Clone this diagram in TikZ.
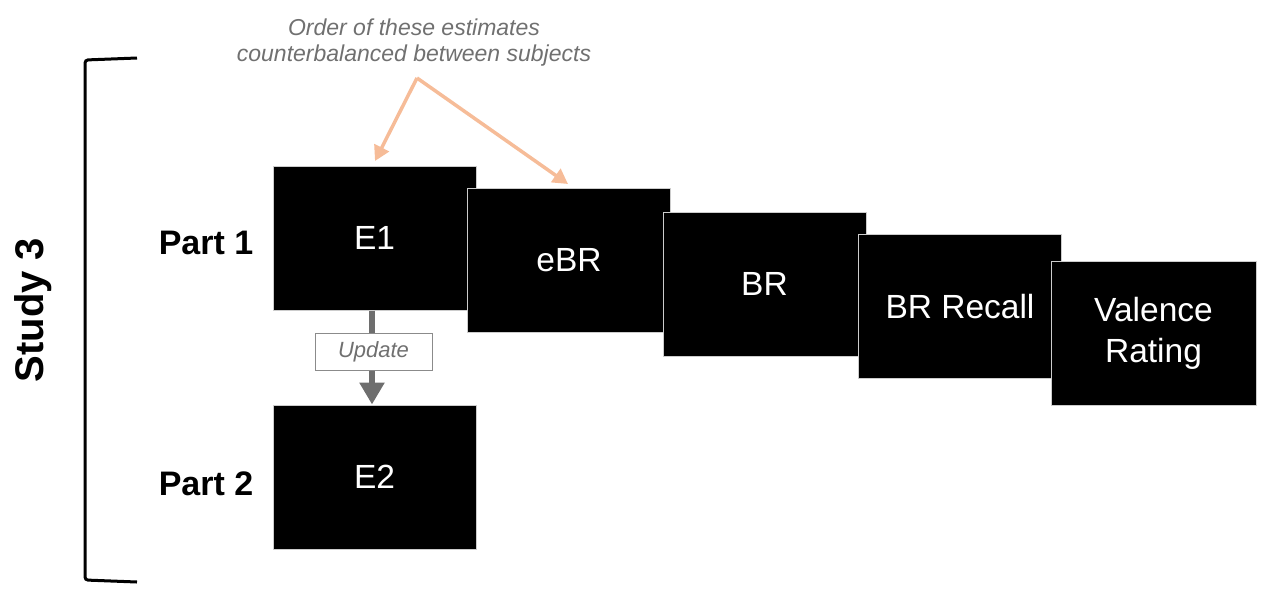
\documentclass[tikz,border=0pt]{standalone}
\usepackage{fontspec}
\setmainfont{Liberation Sans}
\usetikzlibrary{arrows.meta}
\definecolor{peach}{HTML}{F6BC98}
\definecolor{arrowgray}{HTML}{6E6E6E}
\definecolor{notegray}{HTML}{707070}
\begin{document}
\begin{tikzpicture}[x=1pt,y=-1pt,
  screen/.style={draw=black!20,line width=1pt,fill=black,text=white,
    minimum width=203pt,minimum height=144pt,inner sep=0pt,align=center,
    font=\fontsize{33.5}{41}\selectfont},
  partlabel/.style={font=\fontsize{34}{40}\selectfont\bfseries,inner sep=0pt},
  orangearrow/.style={draw=peach,line width=3.5pt,-{Triangle[length=15pt,width=16pt]}},
  updatearrow/.style={draw=arrowgray,line width=6pt,-{Triangle[length=22pt,width=24pt]}},
  updatebox/.style={draw=arrowgray!80,line width=1pt,fill=white,text=notegray,
    minimum width=117pt,minimum height=37pt,inner sep=0pt,
    font=\fontsize{22}{26}\selectfont\itshape},
  note/.style={text=notegray,align=center,font=\fontsize{23}{26}\selectfont\itshape,inner sep=0pt}
]
\useasboundingbox (0,0) rectangle (1274,608);
% bracket
\draw[line width=3pt,rounded corners=3pt] (137,58) -- (85,60) -- (85,580) -- (137,582);
\node[rotate=90,font=\fontsize{40}{46}\selectfont\bfseries,inner sep=0pt] (study) at (33,310) {Study 3};
% labels
\node[partlabel] (p1) at (206,243) {Part 1};
\node[partlabel] (p2) at (206,484) {Part 2};
% screens
\node[screen] (e1) at (374.5,238) {E1};
\node[screen] (ebr) at (569,260.5) {eBR};
\node[screen] (br) at (764.5,284) {BR};
\node[screen] (brr) at (960,306.5) {BR Recall};
\node[screen,minimum width=205pt] (val) at (1153.5,333.5) {Valence\\Rating};
\node[screen] (e2) at (374.5,477) {E2};
% update arrow
\draw[updatearrow] (e1.south -| 372,0) -- (e2.north -| 372,0);
\node[updatebox] (upd) at (373.5,351.5) {Update};
% note
\node[note] (note) at (414,43) {Order of these estimates\\counterbalanced between subjects};
\coordinate (apex) at (417,78);
\coordinate (t1) at (375,161);
\coordinate (t2) at (568,184);
\draw[orangearrow] (apex) -- (t1);
\draw[orangearrow] (apex) -- (t2);
\end{tikzpicture}
\end{document}
